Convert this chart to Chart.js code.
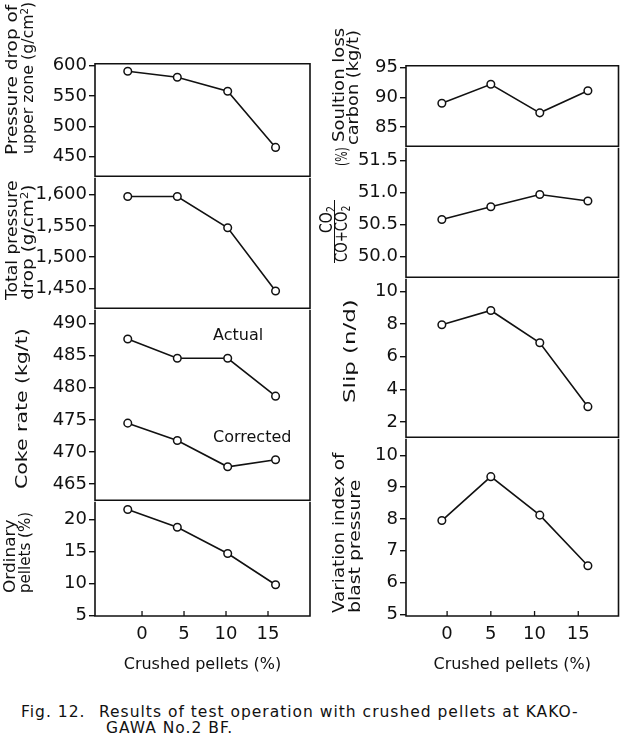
<!DOCTYPE html>
<html>
<head>
<meta charset="utf-8">
<script src="https://cdn.jsdelivr.net/npm/chart.js@4.4.1/dist/chart.umd.min.js"></script>
<style>
  html, body { margin: 0; padding: 0; background: #fff; }
  #wrap { position: relative; width: 625px; height: 745px; overflow: hidden;
          font-family: "DejaVu Sans", sans-serif; color: #111; }
  canvas { position: absolute; }
  .vt { position: absolute; white-space: nowrap; transform-origin: 0 0; }
  .sup { position: relative; top: -0.45em; font-size: 0.65em; }
  .sub { position: relative; top: 0.25em; font-size: 0.7em; }
  .lbl { position: absolute; white-space: nowrap; font-size: 16px; line-height: 18px; }
  .cap { position: absolute; white-space: nowrap; font-size: 15.5px; line-height: 16px; letter-spacing: 1px; }
</style>
</head>
<body>
<div id="wrap"></div>
<script>
// crushed pellets (%) of the four test periods, as plotted in each column
const X_LEFT = [-1.7, 4.2, 10.2, 15.9];
const X_RIGHT = [-0.6, 5.0, 10.6, 16.1];
const X_TICKS = [0, 5, 10, 15];

// left column
const UPPER_DROP = [591, 581, 558, 465];
const UPPER_TICKS = [450, 500, 550, 600];
const TOTAL_DROP = [1597, 1597, 1547, 1446];
const TOTAL_TICKS = [1450, 1500, 1550, 1600];
const COKE_ACTUAL = [487.6, 484.6, 484.6, 478.7];
const COKE_CORRECTED = [474.5, 471.8, 467.7, 468.8];
const COKE_TICKS = [465, 470, 475, 480, 485, 490];
const ORDINARY = [21.6, 18.8, 14.7, 9.8];
const ORDINARY_TICKS = [5, 10, 15, 20];

// right column
const SOL_LOSS = [89.0, 92.2, 87.4, 91.1];
const SOL_TICKS = [85, 90, 95];
const CO2_RATIO = [50.58, 50.78, 50.97, 50.87];
const CO2_TICKS = [50.0, 50.5, 51.0, 51.5];
const SLIP = [7.96, 8.83, 6.85, 2.94];
const SLIP_TICKS = [2, 4, 6, 8, 10];
const VAR_INDEX = [7.95, 9.33, 8.12, 6.53];
const VAR_TICKS = [5, 6, 7, 8, 9, 10];

const INK = "#111";
const wrap = document.getElementById("wrap");
Chart.defaults.font.family = "DejaVu Sans";
Chart.defaults.color = INK;

const COLS = {
  L: { left: 0, width: 318, padRight: 8, xs: X_LEFT, xmin: -5.6, xmax: 20.0 },
  R: { left: 311, width: 313, padRight: 2, xs: X_RIGHT, xmin: -4.7, xmax: 19.6 },
};

// frame round the plot area (top edge only on the first panel, the
// panel above already draws the divider) + inward x ticks on bottom panels
const framePlugin = {
  id: "frame",
  afterDraw(chart, args, opts) {
    const { ctx, chartArea: a } = chart;
    ctx.save();
    ctx.strokeStyle = INK;
    ctx.lineWidth = 1.6;
    ctx.beginPath();
    if (opts.top) {
      ctx.moveTo(a.left, a.bottom);
      ctx.lineTo(a.left, a.top);
      ctx.lineTo(a.right, a.top);
      ctx.lineTo(a.right, a.bottom);
    } else {
      ctx.moveTo(a.left, a.top);
      ctx.lineTo(a.left, a.bottom);
      ctx.moveTo(a.right, a.top);
      ctx.lineTo(a.right, a.bottom);
    }
    ctx.moveTo(a.left - 0.8, a.bottom);
    ctx.lineTo(a.right + 0.8, a.bottom);
    ctx.stroke();
    if (opts.xTicks) {
      const sx = chart.scales.x;
      ctx.lineWidth = 1.3;
      X_TICKS.forEach(v => {
        const px = sx.getPixelForValue(v);
        ctx.beginPath();
        ctx.moveTo(px, a.bottom);
        ctx.lineTo(px, a.bottom - 5);
        ctx.stroke();
      });
    }
    ctx.restore();
  }
};

function makePanel(p) {
  const col = COLS[p.col];
  const padTop = 12;
  const xH = p.xAxis ? 58 : 0;
  const padBottom = p.xAxis ? 0 : 12;
  const h = padTop + (p.bottom - p.top) + xH + padBottom;

  const cv = document.createElement("canvas");
  cv.width = col.width;
  cv.height = h;
  cv.style.left = col.left + "px";
  cv.style.top = (p.top - padTop) + "px";
  wrap.appendChild(cv);

  const datasets = p.series.map(vals => ({
    data: col.xs.map((x, i) => ({ x, y: vals[i] })),
    borderColor: INK,
    borderWidth: 1.6,
    pointRadius: 3.8,
    pointBorderWidth: 1.5,
    pointBackgroundColor: "#fff",
    pointBorderColor: INK,
    tension: 0,
    clip: false,
  }));

  new Chart(cv, {
    type: "line",
    data: { datasets },
    options: {
      responsive: false,
      animation: false,
      layout: { padding: { left: 0, right: col.padRight, top: padTop, bottom: padBottom } },
      plugins: {
        legend: { display: false },
        tooltip: { enabled: false },
        frame: { xTicks: !!p.xAxis, top: !!p.first },
      },
      scales: {
        x: {
          type: "linear",
          min: col.xmin, max: col.xmax,
          display: !!p.xAxis,
          afterBuildTicks: s => { s.ticks = X_TICKS.map(v => ({ value: v })); },
          afterFit: s => { s.height = xH; },
          grid: { display: false },
          border: { display: false },
          ticks: { font: { size: 18 }, padding: 0, color: INK },
          title: { display: !!p.xAxis, text: "Crushed pellets (%)", font: { size: 16 },
                   padding: { top: 0, bottom: 0 }, color: INK },
        },
        y: {
          type: "linear",
          min: p.min, max: p.max,
          afterBuildTicks: s => { s.ticks = p.ticks.map(v => ({ value: v })); },
          afterFit: s => { s.width = 95; },
          grid: { drawOnChartArea: false, drawTicks: true, tickLength: 6, color: INK, lineWidth: 1.4 },
          border: { display: false },
          ticks: { font: { size: 18 }, padding: 2, color: INK, callback: p.fmt || (v => String(v)) },
        },
      },
    },
    plugins: [framePlugin],
  });
}

const comma = v => v.toLocaleString("en-US");
const oneDec = v => v.toFixed(1);

makePanel({ col: "L", top: 63, bottom: 177, series: [UPPER_DROP], ticks: UPPER_TICKS, min: 417.4, max: 603.3, first: true });
makePanel({ col: "L", top: 177, bottom: 309, series: [TOTAL_DROP], ticks: TOTAL_TICKS, min: 1418.5, max: 1626.8, fmt: comma });
makePanel({ col: "L", top: 309, bottom: 501, series: [COKE_ACTUAL, COKE_CORRECTED], ticks: COKE_TICKS, min: 462.5, max: 492.15 });
makePanel({ col: "L", top: 501, bottom: 616, series: [ORDINARY], ticks: ORDINARY_TICKS, min: 4.9, max: 22.8, xAxis: true });

makePanel({ col: "R", top: 65, bottom: 147, series: [SOL_LOSS], ticks: SOL_TICKS, min: 81.8, max: 95.3, first: true });
makePanel({ col: "R", top: 147, bottom: 278, series: [CO2_RATIO], ticks: CO2_TICKS, min: 49.68, max: 51.7, fmt: oneDec });
makePanel({ col: "R", top: 278, bottom: 438, series: [SLIP], ticks: SLIP_TICKS, min: 1.07, max: 10.77 });
makePanel({ col: "R", top: 438, bottom: 616, series: [VAR_INDEX], ticks: VAR_TICKS, min: 4.95, max: 10.52, xAxis: true });

// rotated axis titles: centre x, bottom y where the text starts, length along the text
function vtext(html, cx, bottom, len, size) {
  const d = document.createElement("div");
  d.className = "vt";
  d.innerHTML = html;
  d.style.fontSize = size + "px";
  d.style.lineHeight = size + "px";
  wrap.appendChild(d);
  const w = d.offsetWidth, h = d.offsetHeight;
  d.style.left = (cx - h / 2) + "px";
  d.style.top = bottom + "px";
  d.style.transform = `rotate(-90deg) scaleX(${(len / w).toFixed(3)})`;
}

const cm2 = 'g/cm<span class="sup">2</span>';
vtext("Pressure drop of", 12, 155, 150, 16);
vtext(`upper zone (${cm2})`, 28, 154, 152, 16);
vtext("Total pressure", 12, 300, 120, 16);
vtext(`drop (${cm2})`, 28, 300, 115, 16);
vtext("Coke rate (kg/t)", 22, 489, 161, 16);
vtext("Ordinary", 10, 593, 73, 16);
vtext("pellets (%)", 25, 593, 81, 16);

vtext("Soultion loss", 339, 142, 114, 16);
vtext("carbon (kg/t)", 353, 145, 115, 16);
vtext('CO<span class="sub">2</span>', 327, 233, 27, 17);
vtext('CO+CO<span class="sub">2</span>', 342, 262, 56, 17);
vtext("(%)", 342, 166, 19, 16);
vtext("Slip (n/d)", 350, 403, 103, 16);
vtext("Variation index of", 339, 613, 160, 16);
vtext("blast pressure", 355, 613, 133, 16);

// fraction bar of CO2 / (CO + CO2)
const bar = document.createElement("div");
bar.style.cssText = "position:absolute;left:334px;top:200px;width:1.4px;height:63px;background:#111;";
wrap.appendChild(bar);

function label(text, left, cy, cls) {
  const d = document.createElement("div");
  d.className = cls;
  d.textContent = text;
  d.style.left = left + "px";
  d.style.top = (cy - 9) + "px";
  wrap.appendChild(d);
}
label("Actual", 213, 335, "lbl");
label("Corrected", 213, 437, "lbl");

label("Fig. 12.", 21, 713, "cap");
label("Results of test operation with crushed pellets at KAKO-", 99, 713, "cap");
label("GAWA No.2 BF.", 106, 729, "cap");
</script>
</body>
</html>
